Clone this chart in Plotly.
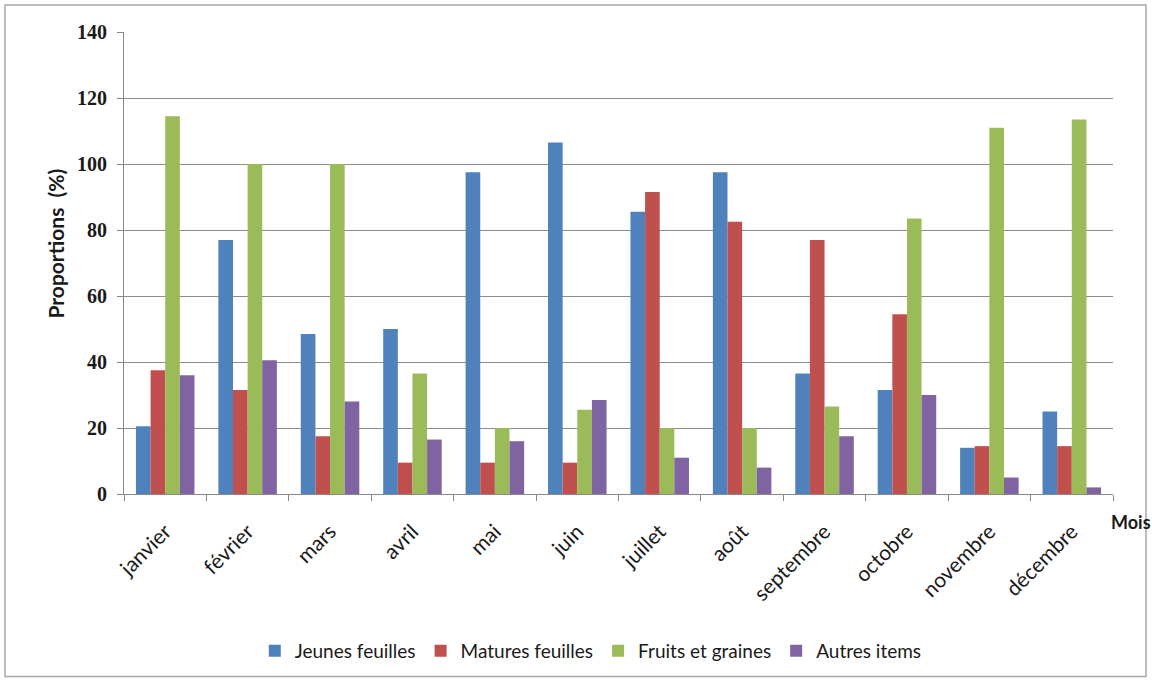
import plotly.graph_objects as go

# Monthly diet composition
mois = ["janvier", "février", "mars", "avril", "mai", "juin", "juillet",
        "août", "septembre", "octobre", "novembre", "décembre"]

jeunes_feuilles = [20.5, 77, 48.5, 50, 97.5, 106.5, 85.5, 97.5, 36.5, 31.5, 14, 25]
matures_feuilles = [37.5, 31.5, 17.5, 9.5, 9.5, 9.5, 91.5, 82.5, 77, 54.5, 14.5, 14.5]
fruits_graines = [114.5, 100, 100, 36.5, 20, 25.5, 20, 20, 26.5, 83.5, 111, 113.5]
autres_items = [36, 40.5, 28, 16.5, 16, 28.5, 11, 8, 17.5, 30, 5, 2]

series = [
    ("Jeunes feuilles", jeunes_feuilles, "#4F81BD"),
    ("Matures feuilles", matures_feuilles, "#C0504D"),
    ("Fruits et graines", fruits_graines, "#9BBB59"),
    ("Autres items", autres_items, "#8064A2"),
]

fig = go.Figure()
for name, values, color in series:
    fig.add_trace(go.Bar(x=mois, y=values, name=name,
                         marker=dict(color=color, line=dict(width=0))))

L, R, T, B = 124, 1113, 32, 495
W, H = 1152, 680
pw, ph = R - L, B - T

def px(x):
    return (x - L) / pw

def py(y):
    return (B - y) / ph

fig.update_layout(
    width=W, height=H,
    margin=dict(l=L, r=W - R, t=T, b=H - B),
    paper_bgcolor="white", plot_bgcolor="white",
    barmode="group", bargap=0.29, bargroupgap=0,
    font=dict(family="Lato", size=16, color="#1a1a1a"),
    showlegend=True,
    legend=dict(orientation="h", x=0.472, xanchor="center",
                y=py(651), yanchor="middle",
                font=dict(family="Lato", size=19, color="#1a1a1a"),
                itemwidth=30, tracegroupgap=0),
    xaxis=dict(
        type="category", tickangle=-45,
        tickson="boundaries", ticks="outside", ticklen=6,
        tickcolor="#888", showline=True, linecolor="#888", linewidth=1,
        showgrid=False, ticklabelstandoff=16,
        tickfont=dict(family="Lato", size=21, color="#1a1a1a"),
    ),
    yaxis=dict(
        range=[0, 140], dtick=20, ticks="outside", ticklen=6,
        tickcolor="#888", showline=True, linecolor="#888", linewidth=1,
        showgrid=True, gridcolor="#8c8c8c", gridwidth=1,
        zeroline=False,
        tickfont=dict(family="Liberation Serif", size=20, color="#1a1a1a",
                      weight="bold"),
        ticklabelstandoff=6,
    ),
    shapes=[dict(type="rect", xref="paper", yref="paper",
                 x0=px(5), x1=px(1146), y0=py(678), y1=py(5),
                 line=dict(color="#a8a8a8", width=1.5), layer="below")],
    annotations=[
        dict(text="<b>Mois</b>", xref="paper", yref="paper",
             x=px(1131), y=py(523), showarrow=False,
             xanchor="center", yanchor="middle",
             font=dict(family="Lato", size=18, color="#1a1a1a")),
        dict(text="<b>Proportions  (%)</b>", xref="paper", yref="paper",
             x=px(56), y=py(244), showarrow=False, textangle=-90,
             xanchor="center", yanchor="middle",
             font=dict(family="Lato", size=21, color="#1a1a1a")),
    ],
)

fig.write_html("out.html")
